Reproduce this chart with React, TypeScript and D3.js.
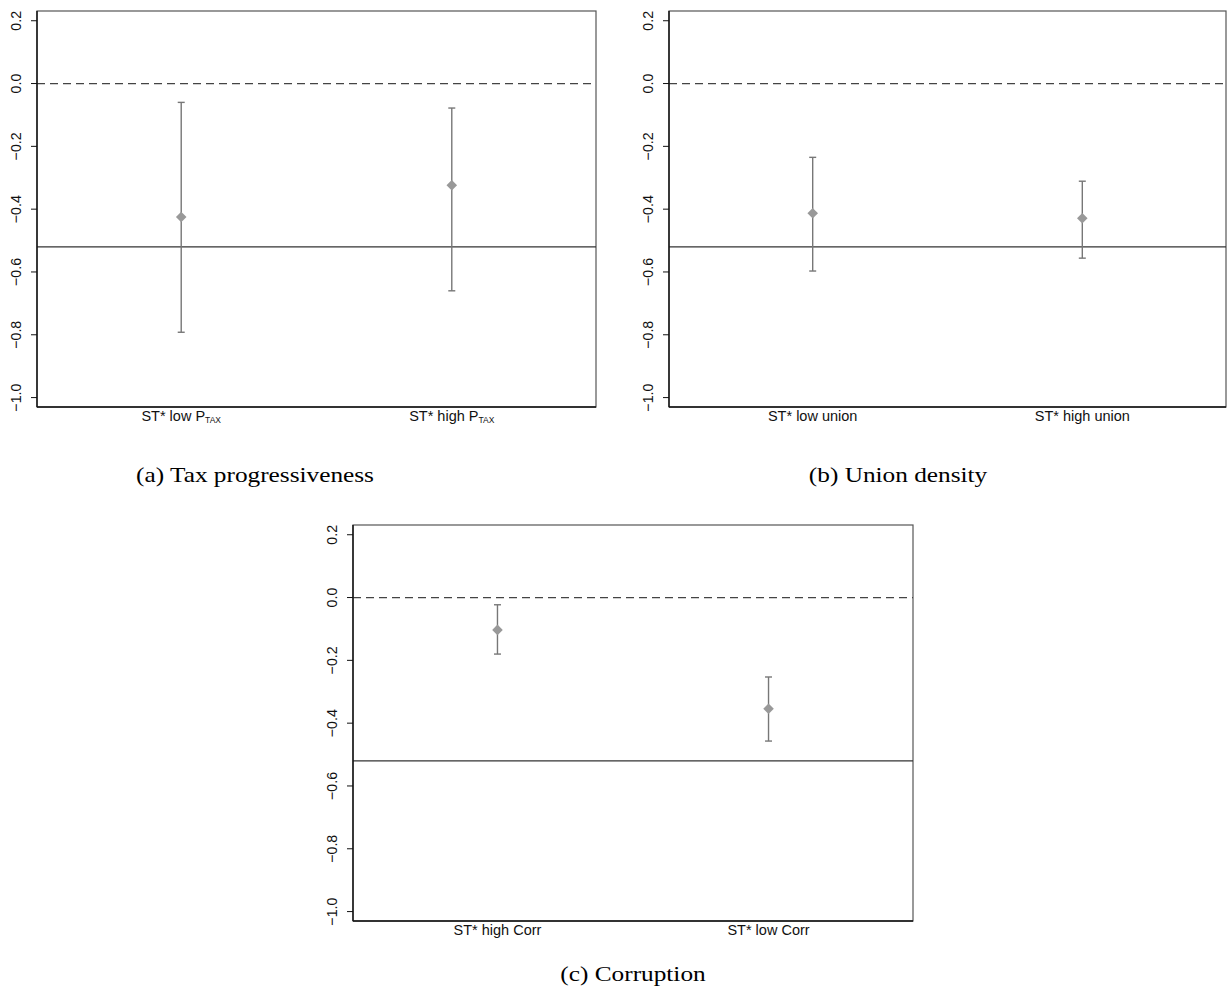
import React, { useEffect, useRef } from 'react';
import * as d3 from 'd3';

// category labels (main text + subscript)
const taxLabels = ['ST* low P', 'ST* high P'];
const taxSubs = ['TAX', 'TAX'];
const unionLabels = ['ST* low union', 'ST* high union'];
const corrLabels = ['ST* high Corr', 'ST* low Corr'];

// point estimates and confidence bounds
const taxEstimates = [-0.425, -0.324];
const taxCiTop = [-0.06, -0.078];
const taxCiBottom = [-0.792, -0.66];

const unionEstimates = [-0.413, -0.429];
const unionCiTop = [-0.235, -0.311];
const unionCiBottom = [-0.597, -0.556];

const corrEstimates = [-0.103, -0.354];
const corrCiTop = [-0.023, -0.253];
const corrCiBottom = [-0.18, -0.457];

const referenceLine = -0.52;
const zeroLine = 0;
const yTicks = [0.2, 0.0, -0.2, -0.4, -0.6, -0.8, -1.0];
const captions = ['(a) Tax progressiveness', '(b) Union density', '(c) Corruption'];

function drawPanel(svg, opts) {
  const { left, top, width, height, labels, subs, est, ciTop, ciBottom } = opts;

  const g = svg.append('g').attr('transform', 'translate(' + left + ',' + top + ')');

  const y = d3.scaleLinear().domain([-1.03, 0.231]).range([height, 0]);
  const x = d3.scalePoint().domain(labels).range([0, width]).padding(0.533);

  // box
  g.append('rect')
    .attr('x', 0)
    .attr('y', 0)
    .attr('width', width)
    .attr('height', height)
    .style('fill', 'none')
    .style('stroke', '#555')
    .style('stroke-width', 1.2);

  // reference lines
  g.append('line')
    .attr('x1', 0)
    .attr('x2', width)
    .attr('y1', y(zeroLine))
    .attr('y2', y(zeroLine))
    .style('stroke', '#444')
    .style('stroke-width', 1.2)
    .style('stroke-dasharray', '8,5');

  g.append('line')
    .attr('x1', 0)
    .attr('x2', width)
    .attr('y1', y(referenceLine))
    .attr('y2', y(referenceLine))
    .style('stroke', '#333')
    .style('stroke-width', 1.2);

  // axes
  g.append('line')
    .attr('x1', 0)
    .attr('x2', 0)
    .attr('y1', 0)
    .attr('y2', height)
    .style('stroke', '#111')
    .style('stroke-width', 1.4);

  g.append('line')
    .attr('x1', 0)
    .attr('x2', width)
    .attr('y1', height)
    .attr('y2', height)
    .style('stroke', '#111')
    .style('stroke-width', 1.6);

  g.selectAll()
    .data(yTicks)
    .enter()
    .append('line')
    .attr('x1', -6)
    .attr('x2', 0)
    .attr('y1', (d) => y(d))
    .attr('y2', (d) => y(d))
    .style('stroke', '#111')
    .style('stroke-width', 1);

  g.selectAll()
    .data(yTicks)
    .enter()
    .append('text')
    .attr('transform', (d) => 'translate(-16.5,' + y(d) + ') rotate(-90) scale(0.95,1)')
    .style('text-anchor', 'middle')
    .style('font-family', 'Liberation Sans, Arial, sans-serif')
    .style('font-size', '15px')
    .style('fill', '#111')
    .text((d) => d3.format('.1f')(d));

  // x labels
  const xl = g
    .selectAll()
    .data(labels)
    .enter()
    .append('text')
    .attr('x', (d) => x(d))
    .attr('y', height + 14)
    .style('text-anchor', 'middle')
    .style('font-family', 'Liberation Sans, Arial, sans-serif')
    .style('font-size', '14.5px')
    .style('fill', '#111');
  xl.append('tspan').text((d) => d);
  if (subs) {
    xl.append('tspan')
      .attr('dy', 2)
      .style('font-size', '8.5px')
      .text((d, i) => subs[i]);
  }

  const idx = d3.range(labels.length);

  // whiskers
  g.selectAll()
    .data(idx)
    .enter()
    .append('line')
    .attr('x1', (i) => x(labels[i]))
    .attr('x2', (i) => x(labels[i]))
    .attr('y1', (i) => y(ciTop[i]))
    .attr('y2', (i) => y(ciBottom[i]))
    .style('stroke', '#777')
    .style('stroke-width', 1.4);

  [ciTop, ciBottom].forEach((arr) => {
    g.selectAll()
      .data(idx)
      .enter()
      .append('line')
      .attr('x1', (i) => x(labels[i]) - 3.5)
      .attr('x2', (i) => x(labels[i]) + 3.5)
      .attr('y1', (i) => y(arr[i]))
      .attr('y2', (i) => y(arr[i]))
      .style('stroke', '#777')
      .style('stroke-width', 1.4);
  });

  // diamonds
  g.selectAll()
    .data(idx)
    .enter()
    .append('path')
    .attr('d', d3.symbol(d3.symbolSquare, 56))
    .attr('transform', (i) => 'translate(' + x(labels[i]) + ',' + y(est[i]) + ') rotate(45)')
    .style('fill', '#999');
}

export default function App() {
  const ref = useRef(null);

  useEffect(() => {
    const svg = d3.select(ref.current);
    svg.selectAll('*').remove();

    drawPanel(svg, {
      left: 37, top: 11, width: 559, height: 396,
      labels: taxLabels, subs: taxSubs,
      est: taxEstimates, ciTop: taxCiTop, ciBottom: taxCiBottom,
    });
    drawPanel(svg, {
      left: 669, top: 11, width: 557, height: 396,
      labels: unionLabels, subs: null,
      est: unionEstimates, ciTop: unionCiTop, ciBottom: unionCiBottom,
    });
    drawPanel(svg, {
      left: 353, top: 525, width: 560, height: 396,
      labels: corrLabels, subs: null,
      est: corrEstimates, ciTop: corrCiTop, ciBottom: corrCiBottom,
    });

    const capPos = [
      [255, 482],
      [898, 482],
      [633, 981],
    ];
    svg
      .selectAll('text.caption')
      .data(captions)
      .enter()
      .append('text')
      .attr('class', 'caption')
      .attr('transform', (d, i) => 'translate(' + capPos[i][0] + ',' + capPos[i][1] + ') scale(1.15,1)')
      .style('text-anchor', 'middle')
      .style('font-family', 'Liberation Serif, serif')
      .style('font-size', '22px')
      .style('fill', '#000')
      .text((d) => d);
  }, []);

  return (
    <svg
      ref={ref}
      width={1227}
      height={1006}
      style={{ position: 'absolute', left: 0, top: 0, background: '#fff' }}
    />
  );
}
